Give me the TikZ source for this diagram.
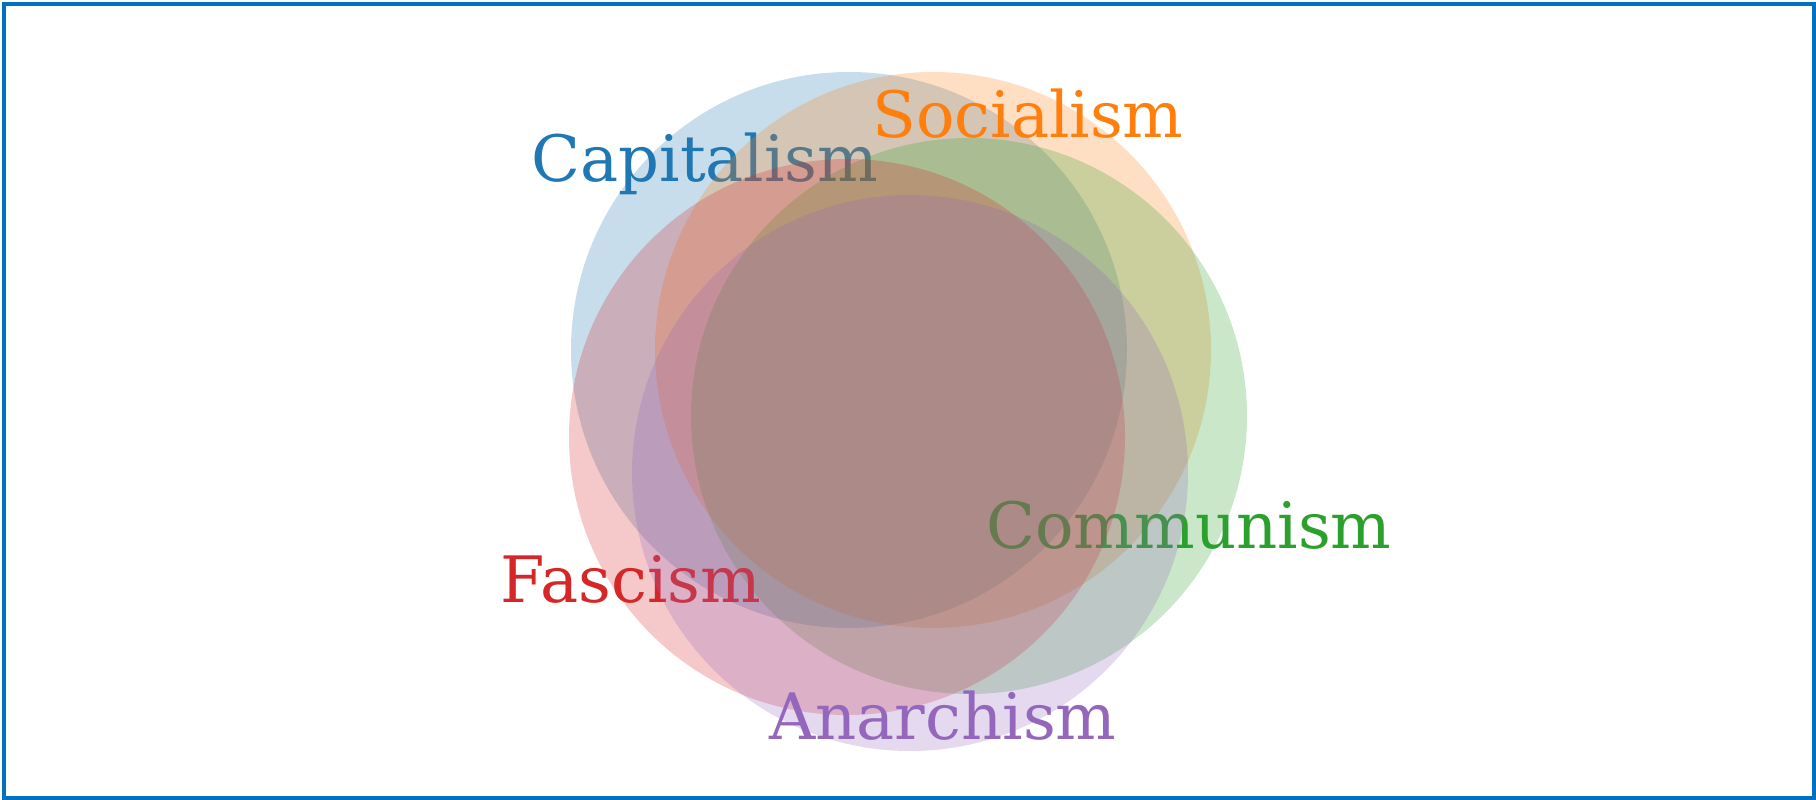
\documentclass[tikz,border=0pt]{standalone}
\usepackage{fontspec}
\setmainfont{DejaVu Serif}
\usetikzlibrary{positioning}
\definecolor{capblue}{HTML}{1F77B4}
\definecolor{socorange}{HTML}{FF7F0E}
\definecolor{comgreen}{HTML}{2CA02C}
\definecolor{fasred}{HTML}{D62728}
\definecolor{anapurple}{HTML}{9467BD}
\definecolor{frameblue}{HTML}{0070C0}

\begin{document}
\begin{tikzpicture}[x=1pt,y=-1pt,
  blob/.style={fill=#1,fill opacity=0.25},
  lbl/.style={text=#1,anchor=base,inner sep=0pt,font=\fontsize{64}{64}\selectfont}]
  \def\R{278pt}
  \useasboundingbox (0,0) rectangle (1816,800);
  \draw[line width=4pt,frameblue] (4,4) rectangle (1814,798);
  % each set, then its name
  \fill[blob=capblue] (849,350) circle[radius=\R];
  \node[lbl=capblue] (cap) at (705,181) {Capitalism};
  \fill[blob=socorange] (933,350) circle[radius=\R];
  \node[lbl=socorange] (soc) at (1028,137) {Socialism};
  \fill[blob=comgreen] (969,416) circle[radius=\R];
  \node[lbl=comgreen] (com) at (1189,548) {Communism};
  \fill[blob=fasred] (847,437) circle[radius=\R];
  \node[lbl=fasred] (fas) at (631,602) {Fascism};
  \fill[blob=anapurple] (910,473) circle[radius=\R];
  \node[lbl=anapurple] (ana) at (943,739) {Anarchism};
\end{tikzpicture}
\end{document}
